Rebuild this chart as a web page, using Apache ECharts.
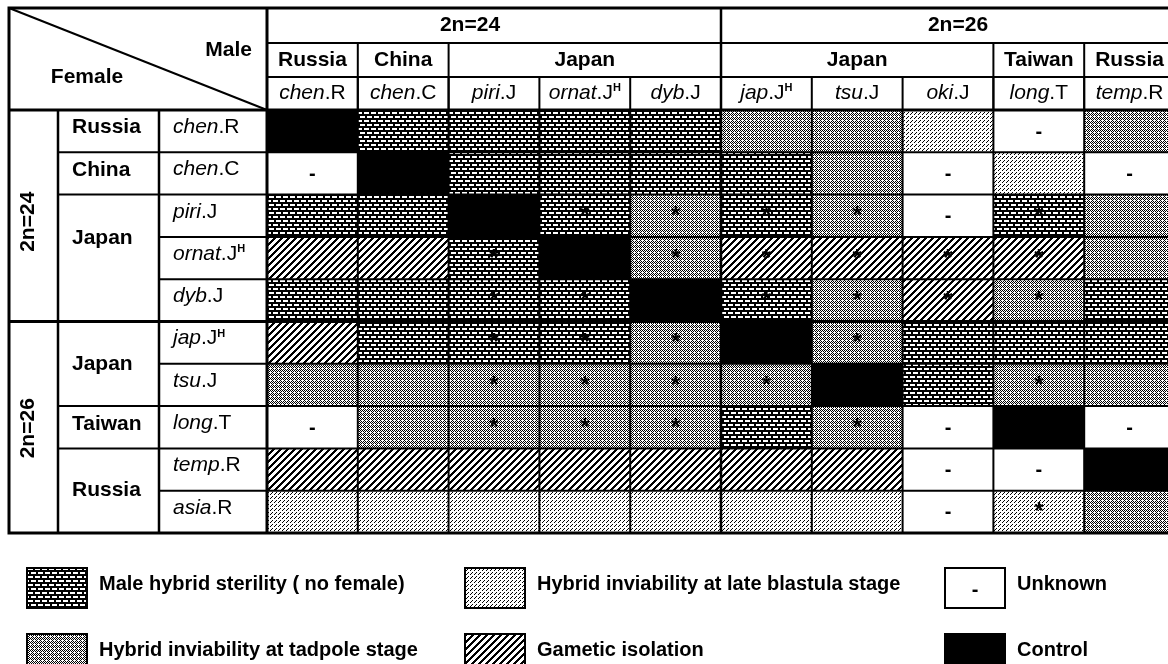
<!DOCTYPE html>
<html><head><meta charset="utf-8">
<script src="https://cdn.jsdelivr.net/npm/echarts@6/dist/echarts.min.js"></script>
<style>html,body{margin:0;padding:0;background:#fff}#c{width:1168px;height:664px}</style>
</head><body><div id="c"></div>
<script>
// ---- data ----
const maleSpecies   = ['chen.R','chen.C','piri.J','ornat.J^H','dyb.J','jap.J^H','tsu.J','oki.J','long.T','temp.R'];
const femaleSpecies = ['chen.R','chen.C','piri.J','ornat.J^H','dyb.J','jap.J^H','tsu.J','long.T','temp.R','asia.R'];
const maleKaryotype   = [['2n=24',0,4],['2n=26',5,9]];
const maleCountries   = [['Russia',0,0],['China',1,1],['Japan',2,4],['Japan',5,7],['Taiwan',8,8],['Russia',9,9]];
const femaleKaryotype = [['2n=24',0,4],['2n=26',5,9]];
const femaleCountries = [['Russia',0,0],['China',1,1],['Japan',2,4],['Japan',5,6],['Taiwan',7,7],['Russia',8,9]];
// result codes: C control, M male hybrid sterility, T inviability tadpole, B inviability late blastula,
// G gametic isolation, U unknown; trailing * = marked cross
const femChenR  = ['C','M','M','M','M','T','T','B','U','T'];
const femChenC  = ['U','C','M','M','M','M','T','U','B','U'];
const femPiriJ  = ['M','M','C','M*','T*','M*','T*','U','M*','T'];
const femOrnatJ = ['G','G','M*','C','T*','G*','G*','G*','G*','T'];
const femDybJ   = ['M','M','M*','M*','C','M*','T*','G*','T*','M'];
const femJapJ   = ['G','M','M*','M*','T*','C','T*','M','M','M'];
const femTsuJ   = ['T','T','T*','T*','T*','T*','C','M','T*','T'];
const femLongT  = ['U','T','T*','T*','T*','M','T*','U','C','U'];
const femTempR  = ['G','G','G','G','G','G','G','U','U','C'];
const femAsiaR  = ['B','B','B','B','B','B','B','U','B*','T'];
const crossRows = [femChenR,femChenC,femPiriJ,femOrnatJ,femDybJ,femJapJ,femTsuJ,femLongT,femTempR,femAsiaR];
const legendItems = [
  ['M','Male hybrid sterility ( no female)'],
  ['B','Hybrid inviability at late blastula stage'],
  ['U','Unknown'],
  ['T','Hybrid inviability at tadpole stage'],
  ['G','Gametic isolation'],
  ['C','Control']
];

// ---- patterns ----
function tile(w, h, isBlack) {
  const c = document.createElement('canvas'); c.width = w; c.height = h;
  const ctx = c.getContext('2d'); const img = ctx.createImageData(w, h);
  for (let y = 0; y < h; y++) for (let x = 0; x < w; x++) {
    const v = isBlack(x, y) ? 0 : 255; const k = (y * w + x) * 4;
    img.data[k] = img.data[k+1] = img.data[k+2] = v; img.data[k+3] = 255;
  }
  ctx.putImageData(img, 0, 0); return c;
}
const patM = tile(7, 8, (x, y) => { if (y % 4 > 1) return true; const off = (y % 8 < 4) ? 0 : 3; return ((x - off + 7) % 7) >= 5; });
const patT = tile(4, 4, (x, y) => ((x + y) % 2 === 0) && !(x === 2 && y === 0));
const patB = tile(4, 4, (x, y) => (x === 0 && y === 0) || (x === 2 && y === 2) || (x === 3 && y === 1));
const patG = tile(7, 7, (x, y) => ((x + y) % 7) < 3);
const FILL = {
  C: '#000', U: '#fff',
  M: {image: patM, repeat: 'repeat'},
  T: {image: patT, repeat: 'repeat'},
  B: {image: patB, repeat: 'repeat'},
  G: {image: patG, repeat: 'repeat'}
};
const FONT = '"Liberation Sans", Arial, Helvetica, sans-serif';

function fmtSpecies(s) {
  const parts = s.split('^'); const base = parts[0]; const i = base.indexOf('.');
  return '{i|' + base.slice(0, i) + '}{r|' + base.slice(i) + '}' + (parts[1] ? '{s|' + parts[1] + '}' : '');
}
const rich = {
  i: {fontFamily: FONT, fontSize: 21, fontStyle: 'italic', color: '#000'},
  r: {fontFamily: FONT, fontSize: 21, color: '#000'},
  s: {fontFamily: FONT, fontSize: 11, fontWeight: 'bold', color: '#000', verticalAlign: 'top'}
};

const cells = [];
crossRows.forEach((row, r) => row.forEach((code, c) => cells.push({col: c, row: r, code: code})));

const chart = echarts.init(document.getElementById('c'));
chart.setOption({
  animation: false,
  backgroundColor: '#fff',
  grid: {left: 267, top: 110, width: 908, height: 423, containLabel: false, outerBoundsMode: 'none'},
  xAxis: {type: 'category', position: 'top', data: maleSpecies,
    axisLine: {show: false}, axisTick: {show: false}, splitLine: {show: false},
    axisLabel: {interval: 0, margin: 17, verticalAlign: 'middle', formatter: v => fmtSpecies(v), rich: rich}},
  yAxis: {type: 'category', inverse: true, data: femaleSpecies,
    axisLine: {show: false}, axisTick: {show: false}, splitLine: {show: false},
    axisLabel: {interval: 0, margin: 94, align: 'left', verticalAlign: 'middle', padding: [0, 0, 8, 0],
      formatter: v => fmtSpecies(v), rich: rich}},
  series: [{
    type: 'custom',
    data: cells.map(d => [d.col, d.row]),
    renderItem: function (params, api) {
      const d = cells[params.dataIndex];
      const p = api.coord([api.value(0), api.value(1)]);
      const s = api.size([1, 1]);
      const base = d.code.charAt(0); const star = d.code.indexOf('*') >= 0;
      const children = [{type: 'rect', shape: {x: p[0] - s[0] / 2, y: p[1] - s[1] / 2, width: s[0], height: s[1]},
        style: {fill: FILL[base]}}];
      if (base === 'U') children.push({type: 'text', style: {text: '-', x: p[0], y: p[1] + 1,
        align: 'center', verticalAlign: 'middle', font: 'bold 20px ' + FONT, fill: '#000'}});
      else if (star) children.push({type: 'text', style: {text: '*', x: p[0], y: p[1] + 1,
        align: 'center', verticalAlign: 'middle', font: 'bold 24px ' + FONT, fill: '#000'}});
      return {type: 'group', children: children};
    }
  }]
});

// ---- table frame, headers and legend derived from the axes ----
const X0 = chart.convertToPixel({xAxisIndex: 0}, 0), X1 = chart.convertToPixel({xAxisIndex: 0}, 1);
const Y0 = chart.convertToPixel({yAxisIndex: 0}, 0), Y1 = chart.convertToPixel({yAxisIndex: 0}, 1);
const bw = X1 - X0, bh = Y1 - Y0;
const xE = i => X0 - bw / 2 + i * bw;
const yE = i => Y0 - bh / 2 + i * bh;
const NC = maleSpecies.length, NR = femaleSpecies.length;
const RIGHT = xE(NC), TOP = 8, BOTTOM = yE(NR);
const HY = [8, 43, 77, yE(0)];
const LX = [9, 58, 159, xE(0)];
const g = [];
const line = (x1, y1, x2, y2, w) => g.push({type: 'line', z: 100, shape: {x1, y1, x2, y2}, style: {stroke: '#000', lineWidth: w || 2}});
const txt = (text, x, y, o) => g.push(Object.assign({type: 'text', z: 101, x: x, y: y,
  style: {text: text, font: 'bold 21px ' + FONT, fill: '#000', align: 'center', verticalAlign: 'middle', textAlign: 'center', textVerticalAlign: 'middle'}}, o || {}));

// data grid lines
for (let i = 1; i < NC; i++) line(xE(i), HY[2], xE(i), BOTTOM, 2);
for (let i = 1; i < NR; i++) line(LX[2], yE(i), RIGHT, yE(i), 2);
// header lines
line(LX[3], HY[1], RIGHT, HY[1], 2);
line(LX[3], HY[2], RIGHT, HY[2], 2);
line(LX[0], HY[3], RIGHT, HY[3], 3);
line(LX[3], TOP, LX[3], BOTTOM, 3);
maleKaryotype.forEach(k => { if (k[1] > 0) line(xE(k[1]), TOP, xE(k[1]), BOTTOM, 2.5); });
maleCountries.forEach(k => { if (k[1] > 0) line(xE(k[1]), HY[1], xE(k[1]), HY[3], 2); });
// left header lines
line(LX[1], HY[3], LX[1], BOTTOM, 2.5);
line(LX[2], HY[3], LX[2], BOTTOM, 2.5);
femaleCountries.forEach(k => { if (k[1] > 0) line(LX[1], yE(k[1]), LX[2], yE(k[1]), 2); });
femaleKaryotype.forEach(k => { if (k[1] > 0) line(LX[0], yE(k[1]), RIGHT, yE(k[1]), 3); });
// outer frame and diagonal
g.push({type: 'rect', z: 100, shape: {x: LX[0], y: TOP, width: RIGHT - LX[0], height: BOTTOM - TOP}, style: {fill: 'none', stroke: '#000', lineWidth: 3}});
line(LX[0], TOP, LX[3], HY[3], 2);
txt('Male', 252, 50, {style: {text: 'Male', font: 'bold 21px ' + FONT, fill: '#000', align: 'right', textAlign: 'right', verticalAlign: 'middle', textVerticalAlign: 'middle'}});
txt('Female', 87, 77);
// column headers
const colNudge = [-24, 10];
maleKaryotype.forEach((k, j) => txt(k[0], (xE(k[1]) + xE(k[2] + 1)) / 2 + colNudge[j], (HY[0] + HY[1]) / 2));
maleCountries.forEach(k => txt(k[0], (xE(k[1]) + xE(k[2] + 1)) / 2, (HY[1] + HY[2]) / 2));
// row headers
const rowKNudge = [6, 1];
femaleKaryotype.forEach((k, j) => txt(k[0], 28, (yE(k[1]) + yE(k[2] + 1)) / 2 + rowKNudge[j], {rotation: Math.PI / 2}));
const rowCNudge = [-4, -3, -20, 0, -3, 0];
femaleCountries.forEach((k, j) => g.push({type: 'text', z: 101, x: 72, y: (yE(k[1]) + yE(k[2] + 1)) / 2 + rowCNudge[j],
  style: {text: k[0], font: 'bold 21px ' + FONT, fill: '#000', align: 'left', textAlign: 'left', verticalAlign: 'middle', textVerticalAlign: 'middle'}}));
// legend
const LGX = [27, 465, 945], LGY = [568, 634];
legendItems.forEach((it, k) => {
  const bx = LGX[k % 3], by = LGY[Math.floor(k / 3)];
  g.push({type: 'rect', z: 100, shape: {x: bx, y: by, width: 60, height: 40}, style: {fill: FILL[it[0]], stroke: '#000', lineWidth: 2}});
  if (it[0] === 'U') g.push({type: 'text', z: 101, x: bx + 30, y: by + 22, style: {text: '-', font: 'bold 20px ' + FONT, fill: '#000', align: 'center', textAlign: 'center', verticalAlign: 'middle', textVerticalAlign: 'middle'}});
  g.push({type: 'text', z: 101, x: bx + 72, y: by + 16, style: {text: it[1], font: 'bold 20px ' + FONT, fill: '#000', align: 'left', textAlign: 'left', verticalAlign: 'middle', textVerticalAlign: 'middle'}});
});
chart.setOption({graphic: {elements: g}});
</script></body></html>
